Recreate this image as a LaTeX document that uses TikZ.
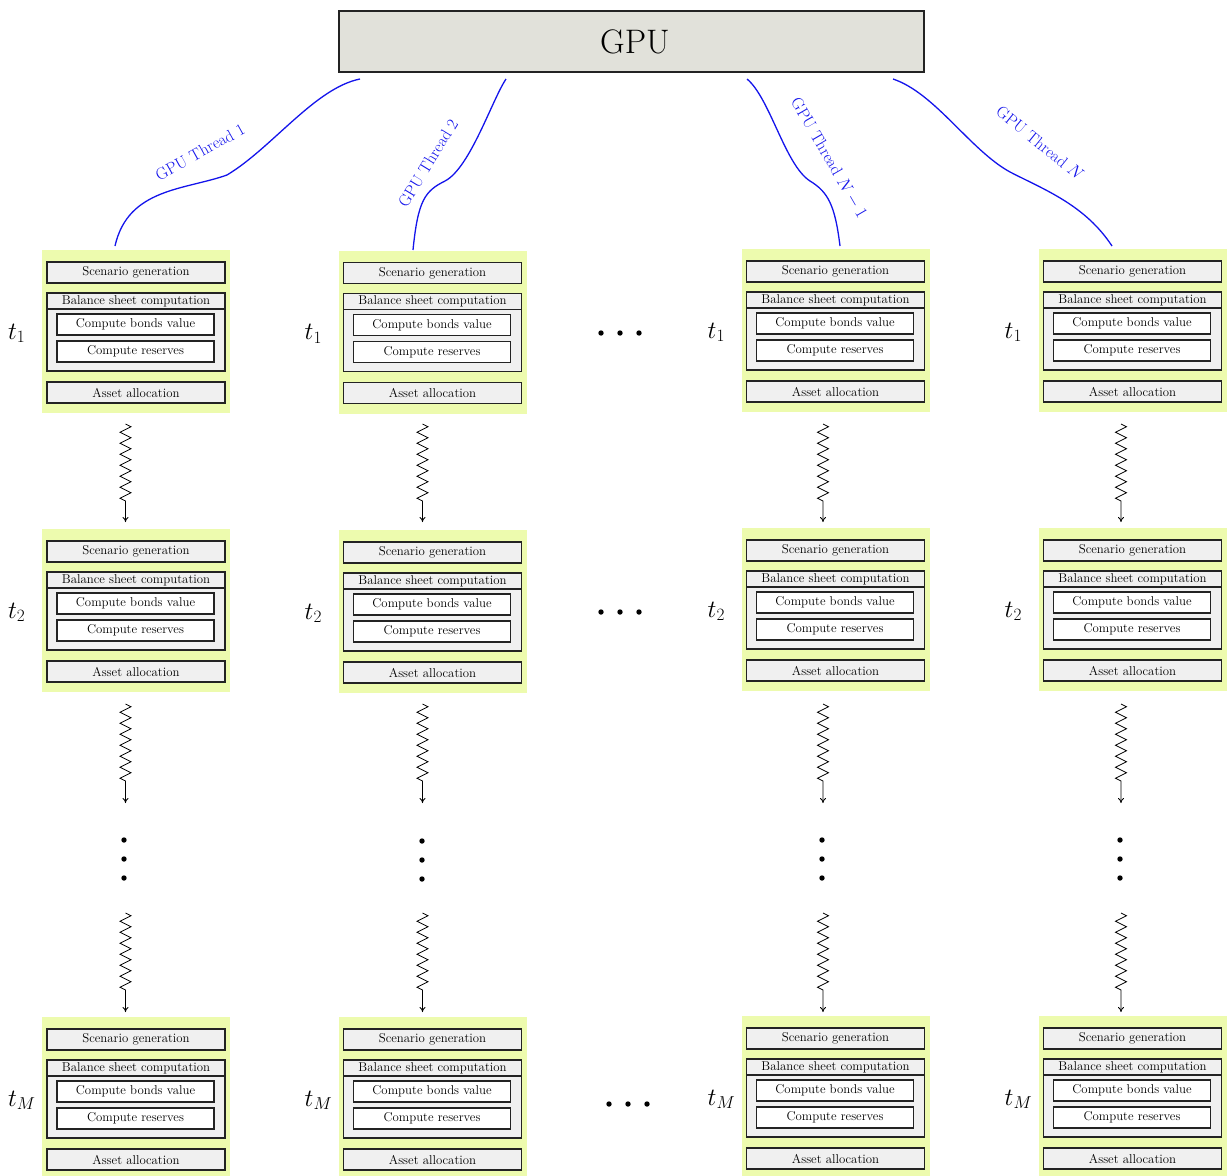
\documentclass[tikz,border=0pt]{standalone}
\usetikzlibrary{decorations.pathmorphing,arrows.meta}
\definecolor{yel}{RGB}{237,251,174}
\definecolor{boxgray}{RGB}{240,240,240}
\definecolor{gpugray}{RGB}{225,225,218}
\definecolor{edgec}{RGB}{35,35,35}
\definecolor{thr}{RGB}{20,20,235}
\tikzset{
  yblock/.style={fill=yel, draw=none, minimum width=188pt, minimum height=163pt, inner sep=0pt, outer sep=0pt},
  gbox/.style={draw=edgec, fill=boxgray, line width=1.1pt, minimum width=178pt, minimum height=21pt, inner sep=0pt, font=\fontsize{12.8}{14}\selectfont},
  wbox/.style={draw=edgec, fill=white, line width=1.1pt, minimum width=157pt, minimum height=21pt, inner sep=0pt, font=\fontsize{12.8}{14}\selectfont},
  tlab/.style={anchor=base west, inner sep=0pt, font=\fontsize{24}{28}\selectfont},
  gpubox/.style={draw=edgec, fill=gpugray, line width=1.1pt, minimum width=585pt, minimum height=61pt, inner sep=0pt, font=\fontsize{34}{40}\selectfont},
  thread/.style={draw=thr, line width=1.3pt},
  thlab/.style={text=thr, inner sep=0pt, font=\fontsize{16.5}{19}\selectfont},
  zigarrow/.style={decorate, decoration={zigzag, segment length=11pt, amplitude=5.5pt, pre length=0pt, post length=18pt}, -{To[length=5pt,width=6pt]}, line width=0.75pt},
  dotc/.style={fill=black}
}
\newcommand{\simblk}[4]{%
  \node[yblock] (#1) at (#2,#3) {};
  \node[gbox] (#1-sg) at (#2,#3-59) {Scenario generation};
  \node[gbox, minimum height=78pt] (#1-bs) at (#2,#3+0.5) {};
  \node[gbox, minimum height=16pt] (#1-bt) at (#2,#3-30.5) {Balance sheet computation};
  \node[wbox] (#1-cb) at (#2-0.5,#3-7) {Compute bonds value};
  \node[wbox] (#1-cr) at (#2-0.5,#3+20) {Compute reserves};
  \node[gbox] (#1-aa) at (#2,#3+61) {Asset allocation};
  \node[tlab] (#1-t) at (#2-128,#3+7.5) {$#4$};
}
\newcommand{\vdotsat}[2]{%
  \fill[dotc] (#1,#2) circle (2.7pt);
  \fill[dotc] (#1,#2+19) circle (2.7pt);
  \fill[dotc] (#1,#2+38) circle (2.7pt);
}
\newcommand{\hdotsat}[2]{%
  \fill[dotc] (#1,#2) circle (2.7pt);
  \fill[dotc] (#1+19,#2) circle (2.7pt);
  \fill[dotc] (#1+38,#2) circle (2.7pt);
}
\begin{document}
\begin{tikzpicture}[x=1pt,y=-1pt]
\useasboundingbox (0,0) rectangle (1227,1176);

% GPU
\node[gpubox] (gpu) at (631.5,41.5) {\hspace*{7pt}GPU};

% blocks
\simblk{a1}{136}{331.5}{t_1}
\simblk{a2}{136}{610.5}{t_2}
\simblk{a3}{136}{1098.5}{t_M}
\simblk{b1}{432.5}{332}{t_1}
\simblk{b2}{432.5}{611.5}{t_2}
\simblk{b3}{432.5}{1098.5}{t_M}
\simblk{c1}{835.5}{330.5}{t_1}
\simblk{c2}{835.5}{609.5}{t_2}
\simblk{c3}{835.5}{1097.5}{t_M}
\simblk{d1}{1132.5}{330.5}{t_1}
\simblk{d2}{1132.5}{609.5}{t_2}
\simblk{d3}{1132.5}{1097.5}{t_M}

% threads
\coordinate (g1) at (360,79);
\coordinate (g2) at (506,79);
\coordinate (g3) at (747,79);
\coordinate (g4) at (893,79);
\coordinate (e1) at (115,246);
\coordinate (e2) at (413,250);
\coordinate (e3) at (840,246);
\coordinate (e4) at (1112,246);
\coordinate (m1) at (227,175);
\coordinate (m2) at (445,181);
\coordinate (m3) at (810,181);
\coordinate (m4) at (1010,172);

\draw[thread] (g1) .. controls (315,88) and (272,148) .. (m1) .. controls (185,190) and (128,188) .. (e1);
\draw[thread] (g2) .. controls (492,100) and (470,168) .. (m2) .. controls (425,191) and (418,200) .. (e2);
\draw[thread] (g3) .. controls (770,98) and (785,165) .. (m3) .. controls (828,192) and (835,205) .. (e3);
\draw[thread] (g4) .. controls (935,93) and (970,150) .. (m4) .. controls (1045,190) and (1085,205) .. (e4);

\node[thlab, rotate=29] (l1) at (200,152) {GPU Thread 1};
\node[thlab, rotate=58.5] (l2) at (428,163) {GPU Thread 2};
\node[thlab, rotate=-60] (l3) at (829,158) {GPU Thread $N-1$};
\node[thlab, rotate=-39] (l4) at (1040,143) {GPU Thread $N$};

% zigzag arrows
\foreach \cx/\nm in {125.5/a,422.5/b,823/c,1121/d}{
  \coordinate (\nm z1s) at (\cx,424);
  \coordinate (\nm z1e) at (\cx,522);
  \coordinate (\nm z2s) at (\cx,704);
  \coordinate (\nm z2e) at (\cx,803);
  \coordinate (\nm z3s) at (\cx,913);
  \coordinate (\nm z3e) at (\cx,1012);
  \draw[zigarrow] (\nm z1s) -- (\nm z1e);
  \draw[zigarrow] (\nm z2s) -- (\nm z2e);
  \draw[zigarrow] (\nm z3s) -- (\nm z3e);
}

% vertical dots
\vdotsat{124}{840}
\vdotsat{422}{841}
\vdotsat{822}{840}
\vdotsat{1120}{840}

% horizontal dots
\hdotsat{601}{333}
\hdotsat{601}{612}
\hdotsat{609}{1104}
\end{tikzpicture}
\end{document}
